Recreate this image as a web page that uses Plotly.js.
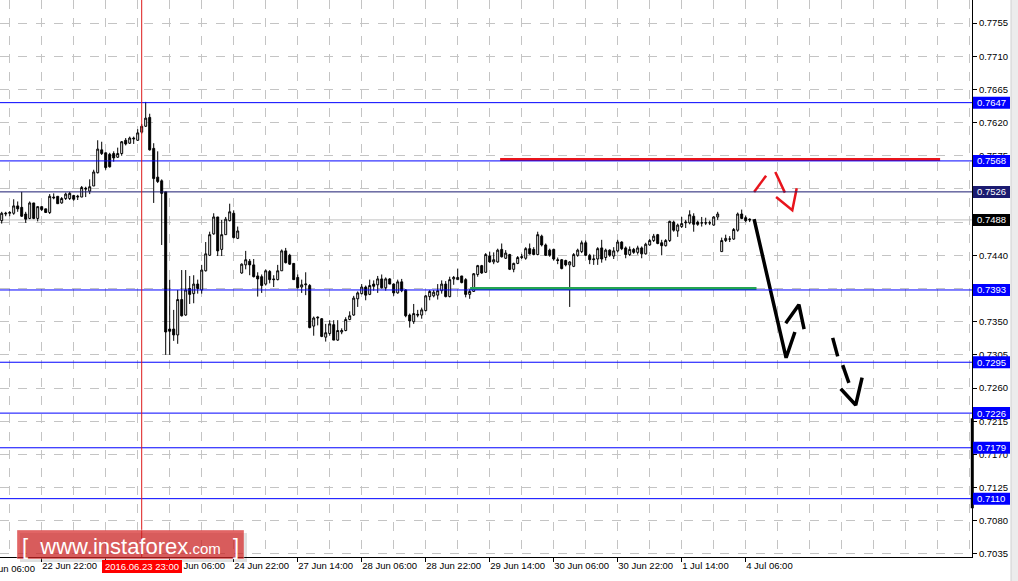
<!DOCTYPE html>
<html><head><meta charset="utf-8">
<script src="https://cdn.plot.ly/plotly-3.0.1.min.js"></script>
<style>html,body{margin:0;padding:0;background:#fff}#chart{width:1018px;height:581px}</style>
</head><body><div id="chart"></div>
<script>
// Hourly AUD/USD-style candles, 22 Jun 12:00 .. 4 Jul 07:00 (weekend skipped)
const open  = [.7487,.7496,.7497,.7497,.7507,.7505,.7496,.7490,.7511,.7490,.7506,.7503,.7498,.7519,.7520,.7511,.7517,.7517,.7521,.7519,
.7519,.7531,.7527,.7534,.7552,.7583,.7579,.7577,.7578,.7573,.7578,.7596,.7592,.7599,.7596,.7607,.7615,.7627,.7585,.7546,
.7541,.7526,.7340,.7340,.7332,.7380,.7359,.7395,.7388,.7401,.7393,.7419,.7440,.7469,.7492,.7448,.7468,.7487,.7497,.7463,
.7416,.7427,.7432,.7427,.7412,.7411,.7401,.7418,.7408,.7407,.7419,.7446,.7440,.7429,.7410,.7397,.7400,.7399,.7344,.7355,
.7354,.7329,.7334,.7346,.7325,.7336,.7338,.7353,.7359,.7381,.7388,.7397,.7387,.7401,.7400,.7408,.7396,.7408,.7401,.7389,
.7404,.7393,.7359,.7350,.7360,.7359,.7365,.7384,.7385,.7386,.7392,.7401,.7384,.7408,.7407,.7412,.7407,.7387,.7391,.7414,
.7426,.7417,.7439,.7431,.7431,.7448,.7436,.7441,.7421,.7429,.7437,.7436,.7449,.7448,.7441,.7466,.7454,.7447,.7448,.7434,
.7434,.7433,.7427,.7425,.7440,.7445,.7457,.7440,.7434,.7435,.7450,.7437,.7447,.7439,.7446,.7458,.7450,.7441,.7448,.7444,
.7450,.7442,.7454,.7460,.7468,.7457,.7453,.7460,.7485,.7473,.7479,.7484,.7484,.7493,.7485,.7484,.7484,.7484,.7481,.7492,
.7445,.7460,.7462,.7462,.7474,.7496,.7491,.7489];
const high  = [.7499,.7499,.7500,.7516,.7513,.7526,.7499,.7513,.7511,.7506,.7506,.7503,.7523,.7524,.7520,.7519,.7525,.7526,.7522,.7522,
.7534,.7533,.7543,.7556,.7596,.7594,.7579,.7579,.7581,.7586,.7595,.7599,.7601,.7601,.7611,.7618,.7648,.7632,.7592,.7581,
.7543,.7526,.7407,.7366,.7393,.7420,.7420,.7412,.7413,.7407,.7427,.7458,.7472,.7497,.7492,.7488,.7492,.7510,.7501,.7479,
.7429,.7446,.7435,.7435,.7417,.7414,.7421,.7420,.7413,.7427,.7448,.7450,.7442,.7429,.7414,.7407,.7417,.7401,.7357,.7357,
.7355,.7347,.7352,.7352,.7352,.7341,.7356,.7364,.7385,.7391,.7401,.7399,.7407,.7406,.7412,.7414,.7410,.7409,.7402,.7407,
.7408,.7394,.7361,.7374,.7366,.7369,.7386,.7393,.7393,.7401,.7406,.7405,.7411,.7412,.7422,.7412,.7409,.7394,.7416,.7427,
.7427,.7443,.7445,.7444,.7449,.7456,.7447,.7442,.7430,.7439,.7442,.7451,.7456,.7451,.7472,.7468,.7456,.7449,.7449,.7437,
.7435,.7434,.7432,.7443,.7449,.7460,.7460,.7442,.7441,.7451,.7461,.7449,.7448,.7451,.7461,.7459,.7452,.7452,.7450,.7453,
.7452,.7457,.7462,.7469,.7469,.7461,.7462,.7487,.7487,.7483,.7492,.7488,.7501,.7497,.7487,.7492,.7491,.7487,.7493,.7499,
.7464,.7468,.7466,.7477,.7498,.7502,.7494,.7490];
const low   = [.7483,.7493,.7493,.7495,.7499,.7492,.7484,.7489,.7489,.7486,.7500,.7498,.7496,.7516,.7510,.7510,.7515,.7515,.7514,.7515,
.7519,.7519,.7523,.7534,.7551,.7576,.7556,.7559,.7567,.7572,.7575,.7589,.7591,.7591,.7595,.7605,.7614,.7582,.7511,.7538,
.7454,.7305,.7305,.7324,.7320,.7357,.7358,.7374,.7375,.7388,.7388,.7418,.7439,.7468,.7439,.7439,.7468,.7486,.7463,.7462,
.7415,.7421,.7413,.7410,.7384,.7389,.7399,.7402,.7397,.7406,.7419,.7429,.7427,.7407,.7395,.7389,.7386,.7341,.7331,.7345,
.7329,.7323,.7331,.7325,.7324,.7333,.7337,.7352,.7358,.7370,.7387,.7379,.7386,.7392,.7389,.7395,.7392,.7401,.7385,.7388,
.7390,.7356,.7342,.7347,.7356,.7354,.7364,.7379,.7383,.7380,.7388,.7383,.7383,.7400,.7407,.7402,.7383,.7381,.7391,.7411,
.7415,.7416,.7430,.7428,.7430,.7437,.7435,.7420,.7417,.7428,.7435,.7434,.7441,.7440,.7440,.7452,.7439,.7438,.7433,.7428,
.7421,.7425,.7370,.7424,.7438,.7443,.7439,.7428,.7427,.7427,.7430,.7433,.7438,.7435,.7444,.7447,.7436,.7439,.7442,.7441,
.7436,.7441,.7453,.7458,.7455,.7440,.7452,.7458,.7472,.7465,.7477,.7477,.7482,.7472,.7480,.7479,.7481,.7481,.7480,.7488,
.7445,.7458,.7458,.7461,.7472,.7489,.7485,.7485];
const close = [.7497,.7497,.7498,.7507,.7503,.7493,.7489,.7511,.7490,.7506,.7502,.7498,.7520,.7518,.7510,.7517,.7523,.7524,.7516,.7520,
.7532,.7530,.7533,.7553,.7584,.7578,.7559,.7560,.7572,.7578,.7594,.7591,.7599,.7598,.7606,.7615,.7626,.7583,.7544,.7540,
.7524,.7336,.7337,.7332,.7380,.7358,.7393,.7387,.7401,.7395,.7420,.7442,.7468,.7492,.7446,.7468,.7489,.7499,.7464,.7473,
.7428,.7434,.7427,.7411,.7408,.7399,.7419,.7407,.7407,.7419,.7446,.7430,.7428,.7407,.7396,.7400,.7401,.7342,.7355,.7356,
.7330,.7335,.7347,.7325,.7338,.7338,.7353,.7358,.7382,.7389,.7397,.7386,.7399,.7398,.7408,.7396,.7408,.7401,.7389,.7404,
.7392,.7358,.7351,.7361,.7359,.7366,.7385,.7391,.7390,.7392,.7401,.7384,.7407,.7410,.7410,.7403,.7387,.7391,.7415,.7426,
.7416,.7441,.7431,.7434,.7447,.7438,.7443,.7421,.7429,.7437,.7438,.7449,.7442,.7441,.7468,.7454,.7440,.7440,.7435,.7433,
.7422,.7427,.7431,.7441,.7447,.7457,.7440,.7434,.7435,.7449,.7435,.7447,.7440,.7446,.7458,.7449,.7441,.7448,.7444,.7450,
.7442,.7455,.7460,.7466,.7456,.7453,.7460,.7486,.7474,.7481,.7483,.7485,.7495,.7482,.7482,.7484,.7484,.7484,.7492,.7496,
.7460,.7463,.7462,.7475,.7496,.7490,.7487,.7488];

// time axis labels (bar index -> label)
const tickIdx    = [10, 26, 42, 58, 74, 90, 106, 122, 138, 154, 170, 186];
const tickLabels = ["22 Jun 22:00","23 Jun 14:00","24 Jun 06:00","24 Jun 22:00","27 Jun 14:00","28 Jun 06:00",
                    "28 Jun 22:00","29 Jun 14:00","30 Jun 06:00","30 Jun 22:00","1 Jul 14:00","4 Jul 06:00"];
const gridIdx    = [2,10,18,26,34,42,50,58,66,74,82,90,98,106,114,122,130,138,146,154,162,170,178,186,194,202,210,218,226,234,242];
const priceTicks = [0.7035,0.7080,0.7125,0.7170,0.7215,0.7260,0.7305,0.7350,0.7395,0.7440,0.7485,0.7530,0.7575,0.7620,0.7665,0.7710,0.7755];
const hiddenTickLabel = "22 Jun 06:00"; const hiddenTickIdx = -6;

// horizontal levels
const levels      = [0.7647, 0.7568, 0.7526, 0.7393, 0.7295, 0.7226, 0.7179, 0.7110];
const levelColors = ["#0000ff","#0000ff","#1b1b70","#0000ff","#0000ff","#0000ff","#0000ff","#0000ff"];
const lastPrice   = 0.7488;
const crossIdx    = 35; const crossLabel = "2016.06.23 23:00";

// analyst drawings (bar index, price)
const redLevelX = [124.6, 234.6]; const redLevelY = [0.7570, 0.7570];
const greenX = [117.1, 188.7];    const greenY = [0.7395, 0.7395];
const arrowSolidX = [188.1, 196.1, 198.3, null, 196.0, 199.3, 200.6];
const arrowSolidY = [0.7489, 0.7301, 0.7336, null, 0.7348, 0.7373, 0.7340];
const arrowDashX  = [207.75, 209.0, null, 210.25, 211.8, null, 209.75, 213.5, 215.1];
const arrowDashY  = [0.7328, 0.7303, null, 0.7291, 0.7267, null, 0.7259, 0.7237, 0.7274];
const arrowRedX   = [188.1, 191.1, null, 193.4, 195.8, null, 193.6, 197.65, 198.75];
const arrowRedY   = [0.7526, 0.7548, null, 0.7553, 0.7525, null, 0.7519, 0.7501, 0.7531];
const edgeBar = [0.7219, 0.7097];

const bars = open.map((_, i) => i);
const FONT = "Liberation Sans, Arial, sans-serif";
const XR = [-0.425, 242.575];
const YR = [0.70309, 0.77862];

const traces = [
  {type:'candlestick', x:bars, open:open, high:high, low:low, close:close, xaxis:'x', yaxis:'y',
   increasing:{line:{color:'#000',width:1}, fillcolor:'#ffffff'},
   decreasing:{line:{color:'#000',width:1}, fillcolor:'#000000'},
   whiskerwidth:0, hoverinfo:'skip', showlegend:false},
  {type:'scatter', mode:'lines', x:redLevelX, y:redLevelY, xaxis:'x2', yaxis:'y', line:{color:'#e8141c', width:3}, hoverinfo:'skip', showlegend:false},
  {type:'scatter', mode:'lines', x:greenX, y:greenY, xaxis:'x2', yaxis:'y', line:{color:'#25a552', width:3}, hoverinfo:'skip', showlegend:false},
  {type:'scatter', mode:'lines', x:arrowSolidX, y:arrowSolidY, xaxis:'x2', yaxis:'y', connectgaps:false, line:{color:'#000', width:3.5}, hoverinfo:'skip', showlegend:false},
  {type:'scatter', mode:'lines', x:arrowDashX, y:arrowDashY, xaxis:'x2', yaxis:'y', connectgaps:false, line:{color:'#000', width:3.5}, hoverinfo:'skip', showlegend:false},
  {type:'scatter', mode:'lines', x:arrowRedX, y:arrowRedY, xaxis:'x2', yaxis:'y', connectgaps:false, line:{color:'#e8141c', width:2.5}, hoverinfo:'skip', showlegend:false}
];

const shapes = [];
shapes.push({type:'line', xref:'paper', x0:0, x1:1, yref:'y', y0:lastPrice, y1:lastPrice, line:{color:'#c0c0c0', width:1}, layer:'below'});
levels.forEach((lv, i) => shapes.push({type:'line', xref:'paper', x0:0, x1:1, yref:'y', y0:lv, y1:lv, line:{color:levelColors[i], width:1}, layer:'above'}));
shapes.push({type:'line', xref:'x', x0:crossIdx, x1:crossIdx, yref:'paper', y0:0, y1:1, line:{color:'#dd1a1a', width:1}, layer:'above'});
shapes.push({type:'line', xref:'paper', x0:1.0003, x1:1.0003, yref:'y', y0:edgeBar[0], y1:edgeBar[1], line:{color:'#000', width:3}, layer:'above'});
// right gray strip
shapes.push({type:'rect', xref:'paper', x0:1011/972, x1:1.06, yref:'paper', y0:-0.1, y1:1.1, fillcolor:'#ececec', line:{color:'#d0d0d0', width:1}, layer:'above'});
// watermark box + shadow
shapes.push({type:'rect', xref:'paper', x0:20/972, x1:247/972, yref:'paper', y0:1-562/557, y1:1-533/557, fillcolor:'rgba(0,0,0,0.12)', line:{width:0}, layer:'above'});
shapes.push({type:'rect', xref:'paper', x0:17/972, x1:244/972, yref:'paper', y0:1-559/557, y1:1-530/557, fillcolor:'rgba(212,36,36,0.70)', line:{color:'rgba(255,255,255,0.35)', width:1}, layer:'above'});

// price label boxes on the right axis
function boxShape(val, color) {
  return {type:'rect', xref:'paper', xsizemode:'pixel', xanchor:1, x0:1, x1:38,
          yref:'y', ysizemode:'pixel', yanchor:val, y0:-6, y1:6,
          fillcolor:color, line:{width:0}, layer:'above'};
}
levels.forEach((lv, i) => shapes.push(boxShape(lv, levelColors[i])));
shapes.push(boxShape(lastPrice, '#000000'));

const annotations = [];
function boxText(val) {
  return {xref:'paper', x:1, xanchor:'left', xshift:4, yref:'y', y:val, yanchor:'middle',
    text:val.toFixed(4), showarrow:false, font:{color:'#ffffff', size:9.5, family:FONT}, borderpad:0};
}
levels.forEach(lv => annotations.push(boxText(lv)));
annotations.push(boxText(lastPrice));
annotations.push({xref:'x', x:crossIdx, xanchor:'center', yref:'paper', y:0, yanchor:'top', yshift:-3,
  text:crossLabel, showarrow:false, bgcolor:'#ff0000', bordercolor:'#ff0000', borderwidth:1,
  font:{color:'#fff', size:9.5, family:FONT}, borderpad:1, width:76, height:9});
annotations.push({xref:'paper', x:(1.7 + 4*hiddenTickIdx)/972, xanchor:'left', yref:'paper', y:0, yanchor:'top', yshift:-4,
  text:hiddenTickLabel, showarrow:false, font:{color:'#000', size:9.5, family:FONT}});
annotations.push({xref:'paper', x:130/972, xanchor:'center', yref:'paper', y:1-546/557, yanchor:'middle',
  text:"[ &nbsp;www.instaforex<span style='font-size:15px'>.com</span> &nbsp;]", showarrow:false,
  font:{color:'#ffffff', size:22, family:FONT}});

const axisFont = {family:FONT, size:9.5, color:'#000'};
const layout = {
  width:1018, height:581, margin:{l:0, r:46, t:0, b:24},
  paper_bgcolor:'#fff', plot_bgcolor:'#fff', showlegend:false, dragmode:false,
  xaxis:{range:XR, tickmode:'array', tickvals:gridIdx, showticklabels:false, ticks:'',
         showgrid:true, gridcolor:'#c4c4c4', griddash:'dash', gridwidth:1, zeroline:false,
         showline:true, linecolor:'#000', linewidth:1, rangeslider:{visible:false}},
  xaxis2:{range:XR, overlaying:'x', anchor:'y', side:'bottom', tickmode:'array', tickvals:tickIdx, ticktext:tickLabels,
          ticks:'outside', ticklen:4, tickcolor:'#000', ticklabelposition:'outside right', tickfont:axisFont,
          showgrid:false, zeroline:false, showline:false},
  yaxis:{range:YR, side:'right', tickmode:'array', tickvals:priceTicks, tickformat:'.4f', tickfont:axisFont,
         ticks:'outside', ticklen:4, tickcolor:'#000', showgrid:true, gridcolor:'#c4c4c4', griddash:'dash', gridwidth:1,
         zeroline:false, showline:true, linecolor:'#000', linewidth:1},
  shapes:shapes, annotations:annotations
};
Plotly.newPlot('chart', traces, layout, {displayModeBar:false, staticPlot:true});
</script></body></html>
